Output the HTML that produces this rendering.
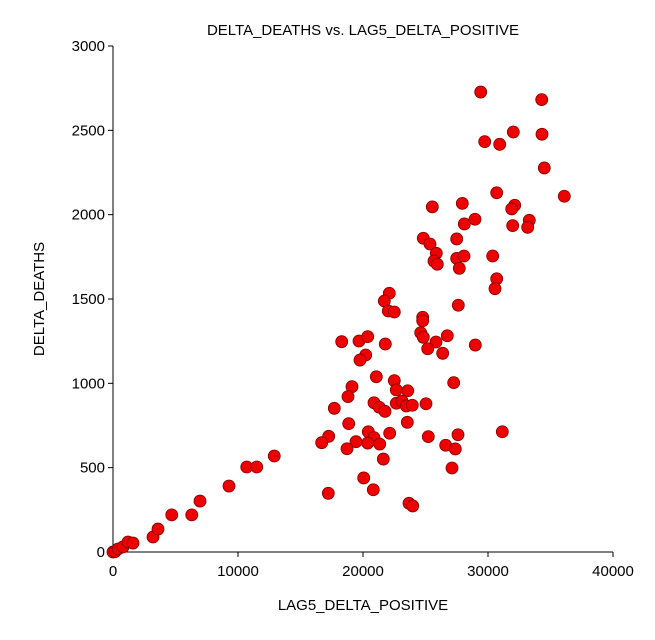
<!DOCTYPE html>
<html><head><meta charset="utf-8"><style>
body{margin:0;background:#fff}
svg text{font-family:"Liberation Sans",Arial,sans-serif;fill:#000}
</style></head><body>
<svg id="chart" width="655" height="635" xmlns="http://www.w3.org/2000/svg">
<text x="363" y="35" font-size="15" text-anchor="middle">DELTA_DEATHS vs. LAG5_DELTA_POSITIVE</text>
<text x="363" y="610" font-size="15" text-anchor="middle">LAG5_DELTA_POSITIVE</text>
<text transform="translate(44,299) rotate(-90)" font-size="15" text-anchor="middle">DELTA_DEATHS</text>
<g id="axes"></g>
<g id="points"></g>
</svg>
<script>
const xValues=[0,160,400,800,1200,1600,3200,3600,4700,6300,6960,9280,10700,11500,12900,
22104,21704,22024,22504,24776,24776,27624,30696,30560,18296,19680,20376,21784,24616,24824,25840,26744,25176,26376,28984,20216,19760,21064,22504,22664,23576,19120,18800,17704,20880,21304,21760,22664,23120,23464,23944,25040,27256,18856,23544,17256,16696,19440,18720,20424,20880,20376,21336,22136,25224,27600,31144,26616,27384,21624,27120,20056,20824,17224,23680,23976,
29416,34296,32024,34320,29736,30936,34504,30696,36104,25544,27944,32136,31896,28960,28104,31976,33304,33176,24824,25360,27496,25864,25680,25944,27496,28080,27704,30376];
const yValues=[0,2,18,30,59,53,89,136,220,220,302,391,504,504,569,
1534,1488,1429,1423,1392,1371,1463,1620,1561,1247,1251,1277,1233,1300,1273,1245,1282,1205,1178,1227,1168,1138,1039,1016,961,956,980,921,852,885,858,834,882,895,866,870,879,1004,761,769,686,648,654,612,713,678,646,640,704,684,695,713,633,611,551,498,439,369,348,289,273,
2727,2682,2490,2477,2433,2417,2277,2130,2109,2046,2067,2056,2034,1973,1945,1935,1967,1925,1860,1826,1856,1771,1725,1706,1741,1755,1682,1755];
const xTicks=[0,10000,20000,30000,40000];
const yTicks=[0,500,1000,1500,2000,2500,3000];
const X0=113,X1=613,Y0=552,Y1=46;
const sx=v=>X0+(v-0)/40000*(X1-X0);
const sy=v=>Y0-(v-0)/3000*(Y0-Y1);
const NS="http://www.w3.org/2000/svg";
const axes=document.getElementById('axes');
function mk(tag,attrs,parent){const e=document.createElementNS(NS,tag);for(const k in attrs)e.setAttribute(k,attrs[k]);parent.appendChild(e);return e;}
let a=mk('line',{x1:X0,y1:Y1,x2:X0,y2:Y0,stroke:'#000'},axes);


a=mk('line',{x1:X0,y1:Y0,x2:X1,y2:Y0,stroke:'#000'},axes);


xTicks.forEach(t=>{
 const l=mk('line',{x1:sx(t),y1:Y0,x2:sx(t),y2:Y0+5,stroke:'#000'},axes);
 
 
 const tx=mk('text',{x:sx(t),y:Y0+24,'font-size':15,'text-anchor':'middle'},axes);
 tx.textContent=t;
 
 
});
yTicks.forEach(t=>{
 const l=mk('line',{x1:X0-5,y1:sy(t),x2:X0,y2:sy(t),stroke:'#000'},axes);
 
 
 const tx=mk('text',{x:X0-8,y:sy(t)+5,'font-size':15,'text-anchor':'end'},axes);
 tx.textContent=t;
 
 
});
const pts=document.getElementById('points');
xValues.forEach((xv,i)=>{
 const c=mk('circle',{cx:sx(xv),cy:sy(yValues[i]),r:6,fill:'#ee0000',stroke:'#800000','stroke-width':0.8},pts);
 
 
});
</script>
</body></html>
